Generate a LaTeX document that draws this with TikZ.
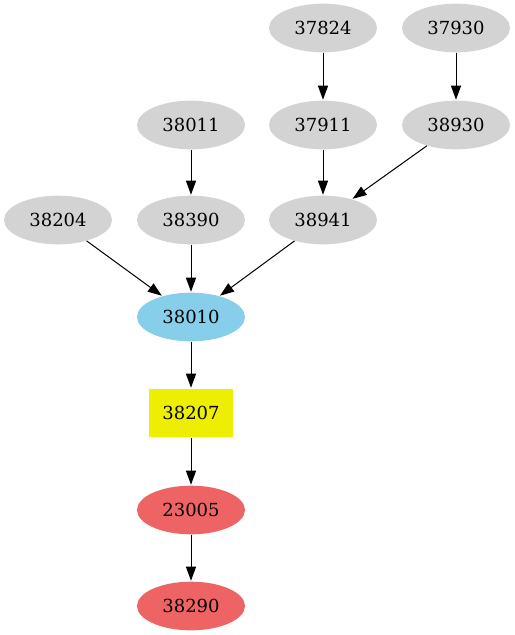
\documentclass[tikz,border=0pt]{standalone}
\usepackage{fontspec}
\setmainfont{DejaVu Serif}
\usetikzlibrary{shapes.geometric,arrows.meta}
\definecolor{gnode}{HTML}{D3D3D3}
\definecolor{bnode}{HTML}{87CEEB}
\definecolor{ynode}{HTML}{EEEE00}
\definecolor{rnode}{HTML}{EE6464}
\tikzset{
  ell/.style={ellipse, draw=none, minimum width=81pt, minimum height=36.5pt, inner sep=0pt, font=\fontsize{13.5}{16}\selectfont},
  gray node/.style={ell, fill=gnode},
  blue node/.style={ell, fill=bnode},
  red node/.style={ell, fill=rnode},
  box node/.style={rectangle, draw=none, fill=ynode, minimum width=63pt, minimum height=36.5pt, inner sep=0pt, font=\fontsize{13.5}{16}\selectfont},
  edge/.style={draw=black, line width=0.75pt, -{Triangle[length=10.5pt,width=7.5pt]}, shorten >=0.5pt}
}
\begin{document}
\begin{tikzpicture}[x=0.75pt,y=-0.75pt]
\useasboundingbox (0,0) rectangle (514,635);
\node[gray node] (n37824) at (323,28) {37824};
\node[gray node] (n37930) at (456,28) {37930};
\node[gray node] (n38011) at (191,125) {38011};
\node[gray node] (n37911) at (323,125) {37911};
\node[gray node] (n38930) at (456,125) {38930};
\node[gray node] (n38204) at (58,220) {38204};
\node[gray node] (n38390) at (191,220) {38390};
\node[gray node] (n38941) at (323,220) {38941};
\node[blue node] (n38010) at (191,317) {38010};
\node[box node] (n38207) at (191,413) {38207};
\node[red node] (n23005) at (191,510) {23005};
\node[red node] (n38290) at (191,606) {38290};
\draw[edge] (n37824) -- (n37911);
\draw[edge] (n37930) -- (n38930);
\draw[edge] (n38011) -- (n38390);
\draw[edge] (n37911) -- (n38941);
\draw[edge] (n38930) -- (n38941);
\draw[edge] (n38204) -- (n38010);
\draw[edge] (n38390) -- (n38010);
\draw[edge] (n38941) -- (n38010);
\draw[edge] (n38010) -- (n38207);
\draw[edge] (n38207) -- (n23005);
\draw[edge] (n23005) -- (n38290);
\end{tikzpicture}
\end{document}
